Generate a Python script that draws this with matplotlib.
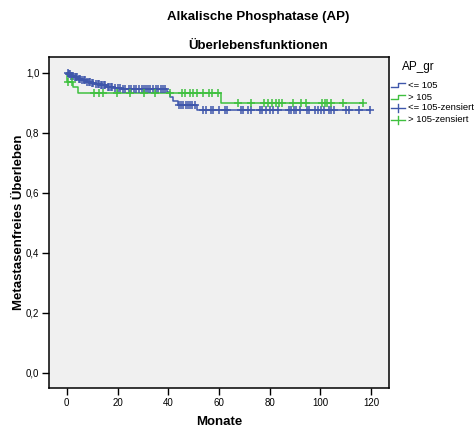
import numpy as np
import matplotlib
matplotlib.use("Agg")
import matplotlib.pyplot as plt
from matplotlib.lines import Line2D

plt.rcParams['font.family'] = ['Liberation Sans', 'DejaVu Sans']

# Kaplan-Meier step data per group: event times and survival after each step
low_times = [0, 0.6, 1.5, 2.8, 4.3, 5.9, 7.6, 9.3, 11.2, 13.0, 15.5, 18.5, 21.5, 39.5, 40.8, 42.0, 43.8, 51.5]
low_surv = [1.0, 0.995, 0.990, 0.985, 0.980, 0.975, 0.970, 0.966, 0.962, 0.958, 0.954, 0.950, 0.947, 0.935, 0.920, 0.905, 0.892, 0.877]
low_end = 119.5
low_cens = [0.3, 0.8, 1.2, 1.8, 2.2, 2.6, 3.2, 3.6, 4.0, 4.8, 5.3, 6.2, 6.8, 7.2, 8.0, 8.6, 9.0,
            9.8, 10.4, 11.6, 12.2, 12.6, 13.4, 14.0, 14.6, 15.0, 16.2, 16.8, 17.4, 18.0, 19.2,
            20.0, 20.8, 22.2, 23.0, 24.4, 25.2, 26.6, 27.4, 28.6, 29.6, 30.4, 31.4, 32.2,
            33.0, 34.0, 35.2, 36.0, 37.0, 38.0, 38.8, 44.2, 45.0, 45.8, 46.8, 47.6, 48.4,
            49.4, 50.4, 53.6, 54.9, 56.7, 57.5, 60.1, 62.4, 63.3, 68.5, 69.3, 71.5, 72.5,
            76.3, 77.1, 78.4, 80.0, 81.3, 83.3, 87.6, 88.5, 89.4, 90.2, 91.8, 94.6, 95.4,
            98.0, 98.9, 100.3, 101.2, 103.3, 104.2, 105.2, 110.1, 111.1, 115.0, 119.5]

high_times = [0, 0.05, 2.3, 4.4, 60.8]
high_surv = [1.0, 0.968, 0.952, 0.932, 0.898]
high_end = 116.6
high_cens = [0.4, 2.0, 10.7, 12.7, 14.4, 19.9, 25.1, 30.3, 34.9, 40.8, 45.4, 46.6, 48.6,
             49.9, 51.3, 53.5, 56.1, 57.1, 59.7, 67.3, 72.8, 77.6, 79.3, 81.0, 82.4,
             83.6, 85.0, 89.1, 92.4, 94.4, 100.7, 101.6, 102.5, 104.2, 108.7, 116.6]

group_names = ['<= 105', '> 105', '<= 105-zensiert', '> 105-zensiert']
legend_title = 'AP_gr'
x_ticks = [0, 20, 40, 60, 80, 100, 120]
y_ticks = [0.0, 0.2, 0.4, 0.6, 0.8, 1.0]

BLUE = '#3f57ab'
GREEN = '#3fc03f'


def step_value(times, surv, t):
    idx = np.searchsorted(times, t, side='right') - 1
    return np.asarray(surv)[np.clip(idx, 0, len(surv) - 1)]


fig = plt.figure(figsize=(4.76, 4.30), dpi=100)
ax = fig.add_axes([49 / 476, 1 - 388 / 430, 340 / 476, 331 / 430])
ax.set_facecolor('#f0f0f0')

for times, surv, end, cens, col in [
    (low_times, low_surv, low_end, low_cens, BLUE),
    (high_times, high_surv, high_end, high_cens, GREEN),
]:
    tx = list(times) + [end]
    sy = list(surv) + [surv[-1]]
    ax.step(tx, sy, where='post', color=col, lw=1.1, zorder=3)
    cy = step_value(np.array(times), surv, np.array(cens))
    ax.plot(cens, cy, linestyle='none', marker='+', ms=5.5, mew=1.1,
            color=col, zorder=4)

ax.set_xlim(-7, 127)
ax.set_ylim(-0.051, 1.053)
ax.set_xticks(x_ticks)
ax.set_xticklabels([str(v) for v in x_ticks])
ax.set_yticks(y_ticks)
ax.set_yticklabels([f'{v:.1f}'.replace('.', ',') for v in y_ticks])
ax.tick_params(direction='out', length=5, width=1, labelsize=7, color='black', pad=2)
for s in ax.spines.values():
    s.set_linewidth(1.1)
    s.set_color('black')

ax.set_xlabel('Monate', fontsize=9.5, fontweight='bold', labelpad=6)
ax.set_ylabel('Metastasenfreies Überleben', fontsize=9.5, fontweight='bold')
ax.yaxis.set_label_coords(-0.072, 0.5)

fig.text(258 / 476, 1 - 17 / 430, 'Alkalische Phosphatase (AP)', ha='center', va='center',
         fontsize=9.5, fontweight='bold')
fig.text(258 / 476, 1 - 46 / 430, 'Überlebensfunktionen', ha='center', va='center',
         fontsize=9.5, fontweight='bold')

# Legend drawn in figure coordinates
fig.text(418 / 476, 1 - 67 / 430, legend_title, ha='center', va='center', fontsize=8.5)
leg_y = [85, 97, 108, 120]
leg_cols = [BLUE, GREEN, BLUE, GREEN]
for i, (name, col, yy) in enumerate(zip(group_names, leg_cols, leg_y)):
    yf = 1 - yy / 430
    if i < 2:
        xs = np.array([391, 398, 398, 405]) / 476
        ys = yf + np.array([-2, -2, 2, 2]) / 430
        fig.add_artist(Line2D(xs, ys, color=col, lw=1.0))
    else:
        fig.add_artist(Line2D([391 / 476, 405 / 476], [yf, yf], color=col, lw=1.0))
        fig.add_artist(Line2D([398 / 476, 398 / 476], [yf - 4 / 430, yf + 4 / 430], color=col, lw=1.0))
    fig.text(408 / 476, yf, name, ha='left', va='center', fontsize=6.8)

fig.savefig('out.png', dpi=100)
